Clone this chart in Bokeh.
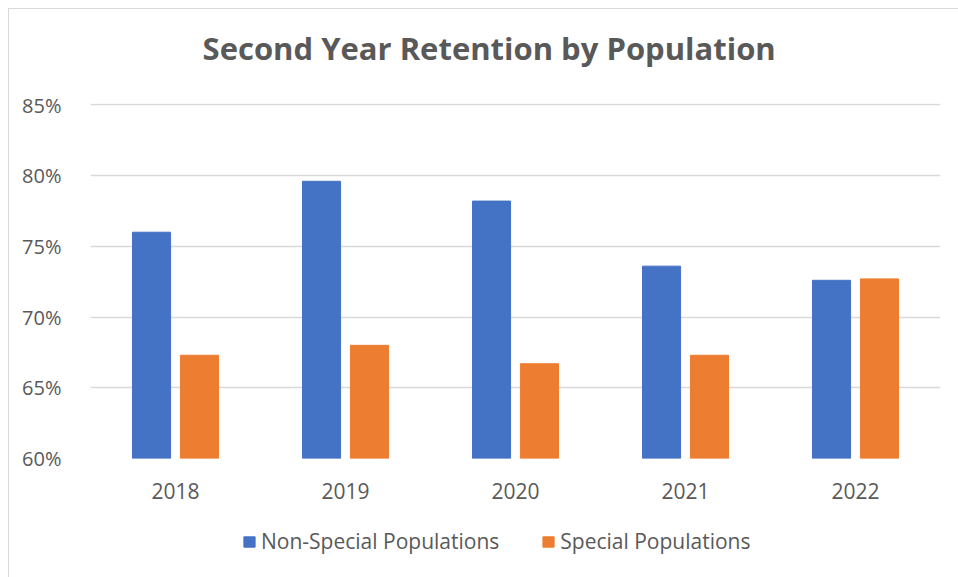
from bokeh.plotting import figure
from bokeh.models import (ColumnDataSource, FactorRange, Range1d, FixedTicker,
                          PrintfTickFormatter, Legend, LegendItem, Label)
from bokeh.layouts import column
from bokeh.transform import dodge
from bokeh.embed import file_html
from bokeh.resources import INLINE

title_text = "Second Year Retention by Population"
years = ["2018", "2019", "2020", "2021", "2022"]
non_special = [76.0, 79.6, 78.2, 73.6, 72.6]
special = [67.3, 68.0, 66.7, 67.3, 72.7]
y_ticks = [60, 65, 70, 75, 80, 85]
series_names = ["Non-Special Populations", "Special Populations"]
colors = ["#4472C4", "#ED7D31"]

FONT = "Open Sans"
TXT = "#595959"


def strip(height):
    f = figure(width=949, height=height, x_range=Range1d(0, 1), y_range=Range1d(0, 1),
               output_backend="svg", toolbar_location=None, min_border=0)
    f.axis.visible = False
    f.grid.grid_line_color = None
    f.outline_line_color = None
    f.title.visible = False
    return f


# title strip
p0 = strip(82)
p0.add_layout(Label(x=0.469, y=0.525, text=title_text, text_align="center",
                    text_baseline="middle", text_font=FONT, text_font_size="31px",
                    text_font_style="bold", text_color=TXT))

# main chart
src = ColumnDataSource(dict(year=years, ns=non_special, sp=special))
p = figure(width=949, height=424, x_range=FactorRange(*years), y_range=Range1d(60, 85.1),
           output_backend="svg", toolbar_location=None,
           min_border_left=81, min_border_right=18, min_border_top=12, min_border_bottom=57)
p.title.visible = False

p.vbar(x=dodge("year", -0.141, range=p.x_range), top="ns", bottom=60, width=0.224,
       source=src, color=colors[0], line_color=colors[0])
p.vbar(x=dodge("year", 0.141, range=p.x_range), top="sp", bottom=60, width=0.224,
       source=src, color=colors[1], line_color=colors[1])

p.outline_line_color = None
p.xgrid.grid_line_color = None
p.ygrid.grid_line_color = "#D9D9D9"
p.ygrid.grid_line_width = 1.5
p.yaxis.ticker = FixedTicker(ticks=y_ticks)
p.yaxis.formatter = PrintfTickFormatter(format="%d%%")
for ax in (p.xaxis, p.yaxis):
    ax.axis_line_color = None
    ax.major_tick_line_color = None
    ax.minor_tick_line_color = None
    ax.major_label_text_font = FONT
    ax.major_label_text_color = TXT
p.yaxis.major_label_text_font_size = "20px"
p.xaxis.major_label_text_font_size = "21px"
p.yaxis.major_label_standoff = 23
p.xaxis.major_label_standoff = 18

# legend strip (frames are aligned with the main frame by the column layout)
p2 = strip(62)
nan = float("nan")
lr = [p2.vbar(x=[nan], top=[nan], bottom=[nan], width=1, color=c, line_color=c) for c in colors]
legend = Legend(items=[LegendItem(label=n, renderers=[r]) for n, r in zip(series_names, lr)],
                orientation="horizontal", location=(152, 22),
                label_text_font=FONT, label_text_font_size="21px", label_text_color=TXT,
                glyph_width=14, glyph_height=13, label_standoff=5, spacing=42,
                border_line_color=None, background_fill_alpha=0, margin=0, padding=0)
p2.add_layout(legend)

layout = column(p0, p, p2, spacing=0)
layout.margin = (8, 0, 0, 8)
layout.styles = {"border-left": "1px solid #D9D9D9", "border-top": "1px solid #D9D9D9"}

open("out.html", "w").write(file_html(layout, INLINE))
